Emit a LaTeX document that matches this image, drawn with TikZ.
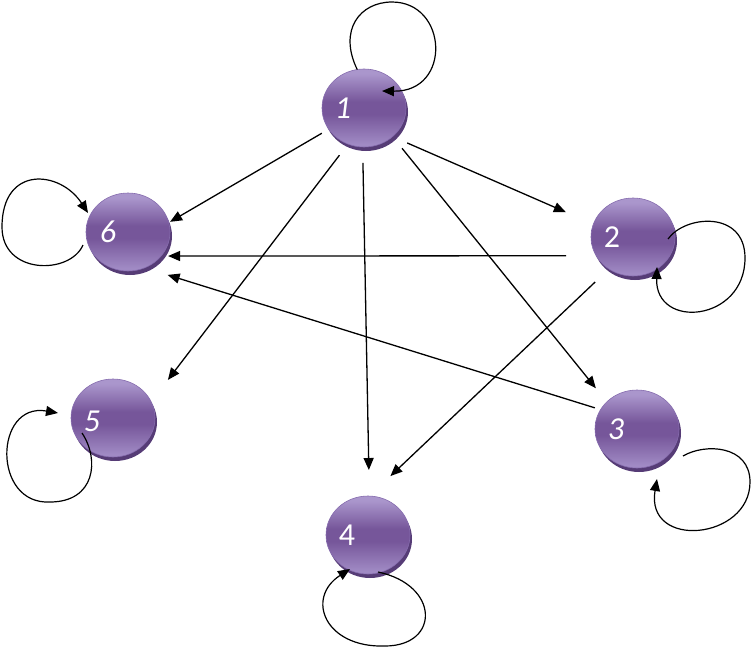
\documentclass[tikz,border=0pt]{standalone}
\usepackage{fontspec}
\setmainfont{Carlito}
\usepackage{xcolor}
\usepackage{tikz}
\usetikzlibrary{arrows.meta, shapes.geometric, shadows}
\definecolor{sphtop}{RGB}{170, 150, 204}
\definecolor{sphmid}{RGB}{118, 86, 154}
\definecolor{sphbot}{RGB}{160, 138, 196}
\definecolor{sphshadow}{RGB}{86, 60, 118}
\definecolor{sphedge}{RGB}{134, 108, 174}
\pgfdeclareverticalshading{sphshade}{100bp}{color(0bp)=(sphbot); color(27bp)=(sphbot);
    color(46bp)=(sphmid); color(54bp)=(sphmid); color(72bp)=(sphtop); color(100bp)=(sphtop)}

\begin{document}
\begin{tikzpicture}[x=1pt, y=-1pt, >={Triangle[length=12pt, width=10pt]},
    sphere/.style={ellipse, minimum width=84pt, minimum height=78pt, inner sep=0pt, outer sep=0pt,
        shading=sphshade, draw=sphedge, line width=0.6pt,
        drop shadow={shadow xshift=2pt, shadow yshift=-4pt, fill=sphshadow, opacity=1}},
    numtxt/.style={text=white, inner sep=0pt, font=\fontsize{32}{36}\selectfont},
    edge/.style={->, line width=1.3pt},
    loopedge/.style={->, line width=1.2pt}]
    \useasboundingbox (0,0) rectangle (752,648);
    % nodes
    \node[sphere] (n1) at (364,108) {};
    \node[sphere] (n2) at (633,237) {};
    \node[sphere] (n3) at (637,429) {};
    \node[sphere] (n4) at (368,535) {};
    \node[sphere] (n5) at (113,418) {};
    \node[sphere] (n6) at (128,232) {};
    \node[numtxt] (l1) at ([xshift=-21pt]n1.center) {\itshape 1};
    \node[numtxt] (l2) at ([xshift=-21pt]n2.center) {2};
    \node[numtxt] (l3) at ([xshift=-21pt]n3.center) {\itshape 3};
    \node[numtxt] (l4) at ([xshift=-21pt]n4.center) {4};
    \node[numtxt] (l5) at ([xshift=-21pt,yshift=-3pt]n5.center) {\itshape 5};
    \node[numtxt] (l6) at ([xshift=-20pt]n6.center) {\itshape 6};
    % edges
    \draw[edge, shorten <=8pt, shorten >=1.5pt] (n1.211) -- (n6.13);
    \draw[edge, shorten <=14pt, shorten >=27.5pt] (n1.246) -- (n5.23);
    \draw[edge, shorten <=16pt, shorten >=26pt] (n1.268) -- (n4.88);
    \draw[edge, shorten <=15pt, shorten >=17.5pt] (n1.315) -- (n3.138);
    \draw[edge, shorten <=16pt, shorten >=30pt] (n1.315) -- (n2.162);
    \draw[edge, shorten <=30pt, shorten >=7pt] (n2.207) -- (n6.324);
    \draw[edge, shorten <=19pt, shorten >=29pt] (n2.233) -- (n4.88);
    \draw[edge, shorten <=6pt, shorten >=24pt] (n3.152) -- (n6.295);
    % loops
    \draw[loopedge] (n1.100) .. controls (338,30) and (360,2) .. (392,2)
        .. controls (448,2) and (452,92) .. ([shift={(18,-17)}]n1.center);
    \draw[loopedge] ([shift={(35,2)}]n2.center) .. controls (685,215) and (745,210) .. (745,258)
        .. controls (745,322) and (655,330) .. ([shift={(24,30)}]n2.center);
    \draw[loopedge] ([shift={(46,27)}]n3.center) .. controls (705,443) and (750,445) .. (750,482)
        .. controls (750,540) and (645,550) .. ([shift={(20,50)}]n3.center);
    \draw[loopedge] ([shift={(10,37)}]n4.center) .. controls (440,585) and (440,646) .. (385,646)
        .. controls (325,648) and (305,598) .. ([shift={(-18,34)}]n4.center);
    \draw[loopedge] ([shift={(-31,15)}]n5.center) .. controls (100,460) and (95,502) .. (50,502)
        .. controls (-8,505) and (-6,402) .. ([shift={(-55,-5)}]n5.center);
    \draw[loopedge] ([shift={(-45,13)}]n6.center) .. controls (70,275) and (2,275) .. (2,227)
        .. controls (2,165) and (60,170) .. ([shift={(-40,-19)}]n6.center);
\end{tikzpicture}
\end{document}
